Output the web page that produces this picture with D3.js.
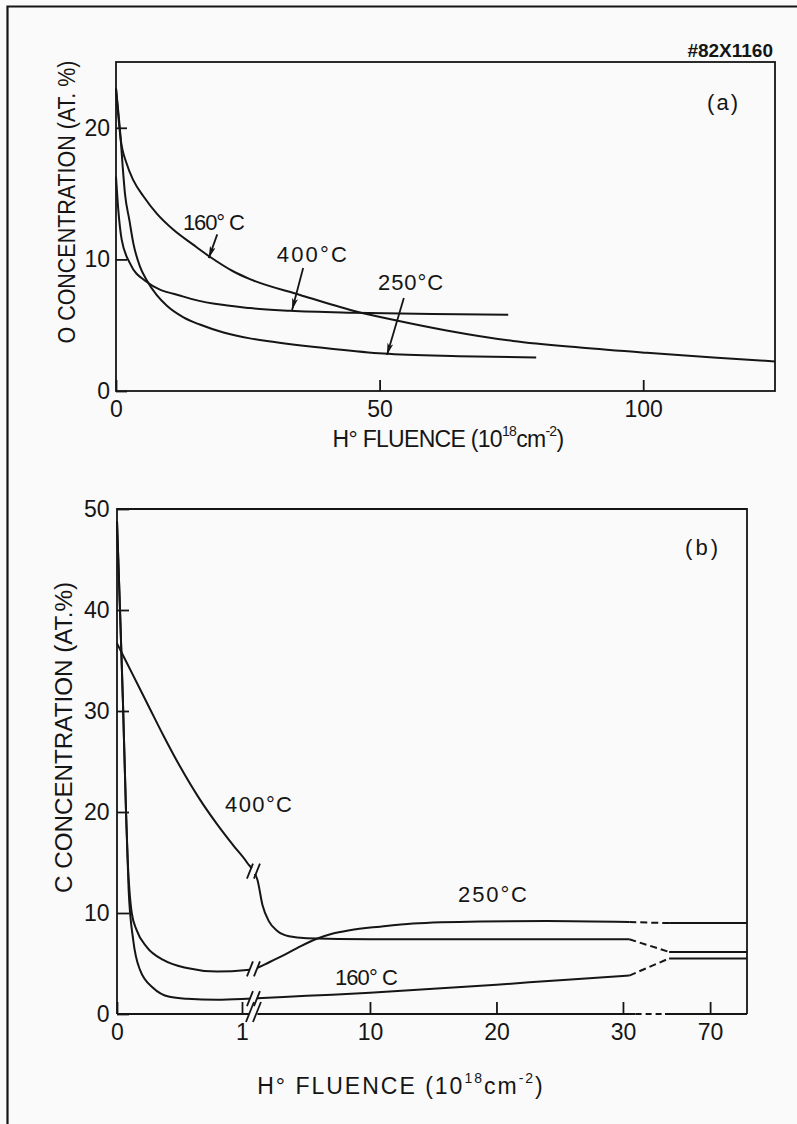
<!DOCTYPE html>
<html lang="en">
<head>
<meta charset="UTF-8">
<title>O and C concentration vs H° fluence</title>
<script src="https://d3js.org/d3.v7.min.js"></script>
<style>
  body { margin: 0; background: #fafafa; }
  svg { display: block; }
  text { font-family: "Liberation Sans", Arial, sans-serif; fill: #151515; }
  .frame { fill: none; stroke: #151515; stroke-width: 1.8; }
  .curve { fill: none; stroke: #151515; stroke-width: 2; }
  .arrow { stroke: #151515; stroke-width: 1.8; }
</style>
</head>
<body>
<svg id="chart" width="797" height="1124"></svg>
<script>
// ---- panel (a): O concentration, fluence in 1e18 cm^-2
const aFluence160 = [0, 0.9, 2, 3.3, 5.2, 7.7, 10.9, 14.7, 17.8, 22.2, 25.4, 34.9, 45, 53.9, 62.7, 75.3, 88, 100.7, 113.3, 125];
const aConc160    = [23.0, 19.1, 17.3, 16.0, 14.8, 13.5, 12.25, 11.1, 10.2, 9.1, 8.5, 7.3, 6.1, 5.3, 4.6, 3.8, 3.3, 2.9, 2.55, 2.25];
const aFluence250 = [0, 0.9, 1.27, 1.7, 2.53, 3.3, 4.55, 5.8, 7.7, 9.6, 12.8, 15.9, 20.4, 25.4, 28.6, 41.2, 50.7, 65, 79.7];
const aConc250    = [23.0, 19.1, 17.05, 15.0, 13.0, 11.2, 9.45, 8.43, 7.3, 6.5, 5.6, 5.05, 4.45, 4.0, 3.8, 3.2, 2.85, 2.65, 2.55];
const aFluence400 = [0, 0.44, 1.08, 2.66, 5.8, 12.8, 25.4, 33, 45, 60, 74.4];
const aConc400    = [16.3, 13.75, 11.5, 9.7, 8.3, 7.17, 6.3, 6.1, 5.95, 5.85, 5.8];
const aXTicks = [0, 50, 100];
const aYTicks = [0, 10, 20];
// label text + anchor (data units), arrow from -> to (data units)
const aLabels = [
  { text: "160° C", f: 12.7, c: 12.2, w: 62, arrow: [19.2, 11.9, 17.6, 10.1] },
  { text: "400°C",  f: 30.5, c: 9.8,  w: 70, arrow: [35.5, 9.35, 33.4, 6.15] },
  { text: "250°C",  f: 49.7, c: 7.67, w: 65, arrow: [54.6, 7.07, 51.4, 2.74] }
];

// ---- panel (b): C concentration, broken fluence axis
const bFluence160 = [0, 0.024, 0.048, 0.072, 0.093, 0.13, 0.184, 0.29, 0.42, 0.56, 0.8, 1.04, 1.1, 5, 10, 15, 20, 25, 30.5, 60, 79];
const bConc160    = [48.8, 40, 30.7, 20.1, 12.3, 7.3, 4.36, 2.57, 1.7, 1.5, 1.4, 1.5, 1.55, 1.8, 2.1, 2.5, 2.9, 3.35, 3.8, 5.5, 5.5];
const bFluence250 = [0, 0.024, 0.048, 0.072, 0.085, 0.118, 0.157, 0.24, 0.37, 0.56, 0.8, 1.04, 1.15, 2, 3.15, 4.5, 5.8, 7, 8.4, 10.8, 13.4, 18.7, 24, 30.5, 60, 79];
const bConc250    = [48.8, 40, 30.7, 20.1, 15.5, 10.0, 8.3, 6.6, 5.35, 4.55, 4.2, 4.35, 4.6, 5.1, 5.8, 6.7, 7.45, 7.95, 8.3, 8.65, 8.95, 9.15, 9.2, 9.1, 9.0, 9.0];
const bFluence400 = [0, 0.13, 0.26, 0.37, 0.5, 0.66, 0.8, 0.93, 1.04, 1.1, 1.5, 2.0, 2.7, 3.6, 5, 10, 20, 30.5, 60, 79];
const bConc400    = [36.7, 33.5, 30.3, 27.6, 24.6, 21.3, 18.8, 16.7, 15.0, 13.3, 10.8, 9.2, 8.2, 7.7, 7.5, 7.4, 7.4, 7.4, 6.15, 6.15];
const bXTicksLow = [0, 1];
const bXTicksMid = [10, 20, 30];
const bXTicksHigh = [70];
const bYTicks = [0, 10, 20, 30, 40, 50];
const bLabels = [
  { text: "400°C",  f: 0.864, c: 20.0, w: 67 },
  { text: "250°C",  f: 16.96, c: 11.1, w: 69 },
  { text: "160° C", f: 7.23,  c: 2.87, w: 63 }
];

const ink = "#151515", bg = "#fafafa";
const svg = d3.select("#chart");

svg.append("defs").append("marker")
  .attr("id", "tip").attr("viewBox", "0 0 12 6")
  .attr("refX", 12).attr("refY", 3)
  .attr("markerWidth", 12).attr("markerHeight", 6)
  .attr("markerUnits", "userSpaceOnUse").attr("orient", "auto")
  .append("path").attr("d", "M0,0L12,3L0,6L3,3z").attr("fill", ink);

// photo border, only left and top edges are in frame
svg.append("path").attr("d", "M7.5,1124V6.5H797")
  .attr("fill", "none").attr("stroke", ink).attr("stroke-width", 2.2);

svg.append("text").attr("x", 773).attr("y", 57).attr("text-anchor", "end")
  .attr("font-size", 19).attr("font-weight", "bold").text("#82X1160");

function styleAxis(g) {
  g.select(".domain").remove();
  g.attr("font-size", 23).attr("font-family", "Liberation Sans, Arial, sans-serif");
  g.selectAll("line").attr("stroke", ink).attr("stroke-width", 1.8);
  g.selectAll("text").attr("fill", ink);
}

function fluenceTitle(x, y, spacing) {
  const t = svg.append("text").attr("x", x).attr("y", y)
    .attr("text-anchor", "middle").attr("font-size", 23).attr("letter-spacing", spacing);
  t.append("tspan").text("H° FLUENCE (10");
  t.append("tspan").attr("dy", -11).attr("font-size", 14).text("18");
  t.append("tspan").attr("dy", 11).text("cm");
  t.append("tspan").attr("dy", -11).attr("font-size", 14).text("-2");
  t.append("tspan").attr("dy", 11).text(")");
}

function yTitle(x, y, len, str) {
  svg.append("text").attr("transform", `translate(${x},${y}) rotate(-90)`)
    .attr("text-anchor", "middle").attr("font-size", 23)
    .attr("textLength", len).attr("lengthAdjust", "spacingAndGlyphs").text(str);
}

function curveLabel(x, y, l) {
  svg.append("text").attr("x", x).attr("y", y).attr("font-size", 22)
    .attr("textLength", l.w).attr("lengthAdjust", "spacing").text(l.text);
}

// ================= panel (a)
const A = { left: 116, right: 775, top: 62, bottom: 391 };
const xa = d3.scaleLinear().domain([0, 125]).range([A.left, A.right]);
const ya = d3.scaleLinear().domain([0, 25]).range([A.bottom, A.top]);

svg.append("rect").attr("class", "frame")
  .attr("x", A.left).attr("y", A.top)
  .attr("width", A.right - A.left).attr("height", A.bottom - A.top);

svg.append("g").attr("transform", `translate(0,${A.bottom})`)
  .call(d3.axisBottom(xa).tickValues(aXTicks).tickFormat(d3.format("d"))
    .tickSizeInner(-11).tickSizeOuter(0).tickPadding(9.5))
  .call(styleAxis);
svg.append("g").attr("transform", `translate(${A.left},0)`)
  .call(d3.axisLeft(ya).tickValues(aYTicks).tickSizeInner(-11).tickSizeOuter(0).tickPadding(6))
  .call(styleAxis);

const lineA = d3.line().x(d => xa(d[0])).y(d => ya(d[1])).curve(d3.curveMonotoneX);
[[aFluence160, aConc160], [aFluence250, aConc250], [aFluence400, aConc400]].forEach(([f, c]) => {
  svg.append("path").attr("class", "curve").attr("d", lineA(f.map((v, i) => [v, c[i]])));
});

aLabels.forEach(l => {
  curveLabel(xa(l.f), ya(l.c), l);
  svg.append("line").attr("class", "arrow")
    .attr("x1", xa(l.arrow[0])).attr("y1", ya(l.arrow[1]))
    .attr("x2", xa(l.arrow[2])).attr("y2", ya(l.arrow[3]))
    .attr("marker-end", "url(#tip)");
});

svg.append("text").attr("x", A.right - 68).attr("y", A.top + 48).attr("font-size", 22)
  .attr("textLength", 31).attr("lengthAdjust", "spacing").text("(a)");

yTitle(75, 202, 283, "O CONCENTRATION (AT. %)");
fluenceTitle(448, A.bottom + 56, -0.7);

// ================= panel (b)
const B = { left: 117, right: 747, top: 509, bottom: 1014 };
const xb1 = d3.scaleLinear().domain([0, 1.06]).range([B.left, B.left + 132.5]);
const xb2 = d3.scaleLinear().domain([1.1, 31]).range([257.4, 635.6]);
const xb3 = d3.scaleLinear().domain([59, 79]).range([665, B.right]);
const xb = v => v <= 1.06 ? xb1(v) : v <= 31 ? xb2(v) : xb3(v);
const yb = d3.scaleLinear().domain([0, 50]).range([B.bottom, B.top]);
const breakX = (xb1.range()[1] + xb2.range()[0]) / 2;

// frame: top, left, right solid; bottom broken
const frameB = svg.append("g").attr("class", "frame");
frameB.append("path").attr("d", `M${B.left},${B.bottom}V${B.top}H${B.right}V${B.bottom}`);
frameB.append("line").attr("x1", B.left).attr("x2", xb1.range()[1]).attr("y1", B.bottom).attr("y2", B.bottom);
frameB.append("line").attr("x1", xb2.range()[0]).attr("x2", xb2.range()[1]).attr("y1", B.bottom).attr("y2", B.bottom);
frameB.append("line").attr("x1", xb2.range()[1]).attr("x2", xb3.range()[0]).attr("y1", B.bottom).attr("y2", B.bottom)
  .attr("stroke-dasharray", "6,4");
frameB.append("line").attr("x1", xb3.range()[0]).attr("x2", B.right).attr("y1", B.bottom).attr("y2", B.bottom);

[[xb1, bXTicksLow], [xb2, bXTicksMid], [xb3, bXTicksHigh]].forEach(([sc, tv]) => {
  svg.append("g").attr("transform", `translate(0,${B.bottom})`)
    .call(d3.axisBottom(sc).tickValues(tv).tickFormat(d3.format("d"))
      .tickSizeInner(-12).tickSizeOuter(0).tickPadding(9.5))
    .call(styleAxis);
});
svg.append("g").attr("transform", `translate(${B.left},0)`)
  .call(d3.axisLeft(yb).tickValues(bYTicks).tickSizeInner(-12).tickSizeOuter(0).tickPadding(7.5))
  .call(styleAxis);

function breakMark(cx, cy, h) {
  const dx = h * 0.4, sep = 3.5;
  svg.append("polygon")
    .attr("points", [[cx - sep - dx * 0.4, cy + 3], [cx - sep + dx * 0.4, cy - 3],
                     [cx + sep + dx * 0.4, cy - 3], [cx + sep - dx * 0.4, cy + 3]].join(" "))
    .attr("fill", bg);
  [-sep, sep].forEach(o => {
    svg.append("line").attr("x1", cx + o - dx).attr("y1", cy + h)
      .attr("x2", cx + o + dx).attr("y2", cy - h)
      .attr("stroke", ink).attr("stroke-width", 1.8);
  });
}

const lineB = d3.line().x(d => xb(d[0])).y(d => yb(d[1])).curve(d3.curveMonotoneX);
[[bFluence160, bConc160], [bFluence250, bConc250], [bFluence400, bConc400]].forEach(([f, c]) => {
  const pts = f.map((v, i) => [v, c[i]]);
  const near = pts.filter(p => p[0] <= 31);
  const far = pts.filter(p => p[0] >= 59);
  svg.append("path").attr("class", "curve").attr("d", lineB(near));
  const a = near[near.length - 1], b = far[0];
  svg.append("line").attr("class", "curve")
    .attr("x1", xb(a[0])).attr("y1", yb(a[1])).attr("x2", xb(b[0])).attr("y2", yb(b[1]))
    .attr("stroke-dasharray", "7,4");
  svg.append("path").attr("class", "curve").attr("d", lineB(far));
  const lo = near.filter(p => p[0] <= 1.06).pop();
  const hi = near.find(p => p[0] > 1.06);
  breakMark(breakX, (yb(lo[1]) + yb(hi[1])) / 2, 7.5);
});
breakMark(breakX, B.bottom - 2, 10);

bLabels.forEach(l => curveLabel(xb(l.f), yb(l.c), l));

svg.append("text").attr("x", B.right - 62).attr("y", B.top + 46).attr("font-size", 22)
  .attr("textLength", 33).attr("lengthAdjust", "spacing").text("(b)");

yTitle(72, 737.5, 311, "C CONCENTRATION (AT.%)");
fluenceTitle(401, 1094, 2);
</script>
</body>
</html>
